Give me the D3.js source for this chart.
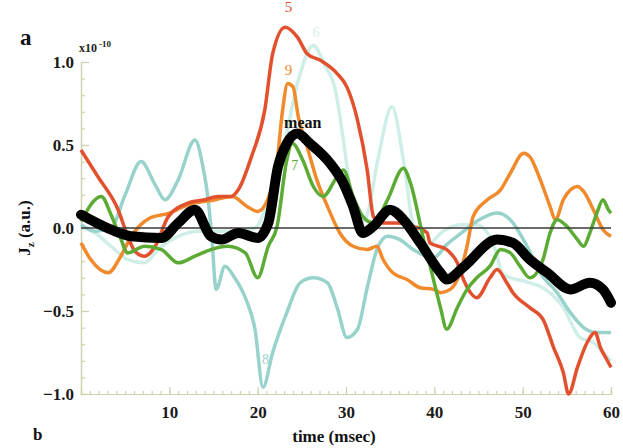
<!DOCTYPE html>
<html>
<head>
<meta charset="utf-8">
<script src="https://cdn.jsdelivr.net/npm/d3@7"></script>
<style>
  body { margin: 0; background: #fff; }
  svg text { font-family: "Liberation Serif", "DejaVu Serif", serif; font-weight: bold; }
</style>
</head>
<body>
<div id="root"></div>
<script>
// time (msec), Jz (x1e-10 a.u.)
const trace5 = [[0,0.47],[1.9,0.31],[4.2,0.11],[5.3,-0.05],[6.1,-0.14],[7.2,-0.17],[8.4,-0.11],[9.9,0.07],[12.1,0.15],[14,0.17],[15.5,0.19],[17,0.19],[17.8,0.23],[19.3,0.43],[20.8,0.71],[21.7,1.05],[23.1,1.21],[24.5,1.15],[25.6,1.05],[27.1,1.01],[29,0.93],[30.1,0.85],[31.3,0.65],[32.4,0.35],[33.1,0.07],[33.9,0.03],[35.8,0.03],[37.6,0.01],[39.2,-0.03],[39.5,-0.09],[41.4,-0.13],[42.6,-0.21],[43.3,-0.31],[44.1,-0.39],[44.8,-0.42],[46.3,-0.3],[47.1,-0.25],[48.2,-0.33],[48.9,-0.39],[50.8,-0.48],[52.3,-0.55],[53.5,-0.72],[54.6,-0.87],[55.2,-1.0],[56.2,-0.84],[57.3,-0.69],[58.2,-0.63],[58.8,-0.72],[59.6,-0.8],[60,-0.84]];
const trace9 = [[0,-0.09],[1.1,-0.19],[3.1,-0.27],[4.5,-0.17],[5.7,-0.05],[7.8,0.06],[10,0.09],[12.1,0.14],[15.2,0.17],[17.1,0.19],[18.8,0.13],[20,0.1],[21.2,0.18],[22.2,0.4],[22.8,0.7],[23.4,0.87],[24,0.85],[24.6,0.67],[25.6,0.49],[26.7,0.29],[27.9,0.13],[29.3,-0.03],[30.8,-0.11],[32.4,-0.13],[33.5,-0.11],[34.2,-0.19],[35.3,-0.27],[36.9,-0.31],[38.4,-0.36],[39.9,-0.37],[40.7,-0.39],[41.8,-0.37],[42.9,-0.27],[43.7,-0.11],[44.4,0.07],[46,0.17],[47.5,0.23],[48.6,0.33],[50.1,0.45],[50.8,0.43],[52,0.29],[53.1,0.13],[53.7,0.05],[54.6,0.17],[56.2,0.25],[56.9,0.22],[58,0.11],[59.1,-0.01],[60,-0.05]];
const trace7 = [[0,0.04],[2.3,0.19],[3.4,0.08],[4.4,-0.05],[5.3,-0.15],[7.2,-0.11],[9.1,-0.13],[11,-0.21],[12.9,-0.17],[14.7,-0.13],[16.6,-0.11],[18.6,-0.15],[20,-0.3],[21.2,-0.11],[22.2,0.01],[23.3,0.41],[23.9,0.51],[25.1,0.41],[26.3,0.25],[27.4,0.19],[29,0.31],[29.7,0.35],[30.8,0.19],[31.9,0.07],[33.1,0.03],[34.7,0.17],[36.5,0.36],[37.3,0.27],[38.7,-0.05],[39.9,-0.31],[40.7,-0.48],[41.4,-0.61],[42.6,-0.48],[43.7,-0.37],[44.8,-0.3],[46.3,-0.23],[47.5,-0.13],[48.6,-0.15],[49.7,-0.23],[50.8,-0.3],[52.3,-0.19],[53.1,-0.03],[53.9,0.05],[55,0.01],[56.2,-0.07],[56.9,-0.11],[57.6,-0.03],[58.4,0.09],[59.1,0.17],[59.7,0.11],[60,0.09]];
const trace8 = [[0,0.02],[1.6,-0.02],[3.4,0],[5,0.2],[6.8,0.4],[8.4,0.26],[9.5,0.17],[11,0.29],[12.9,0.53],[13.8,0.37],[14.4,0.17],[14.8,-0.05],[15.3,-0.37],[16.3,-0.23],[17.4,-0.3],[18.6,-0.42],[19.7,-0.61],[20.6,-0.96],[21.7,-0.75],[23.3,-0.51],[24.8,-0.33],[26.3,-0.3],[27.9,-0.33],[29,-0.48],[30.1,-0.66],[31.3,-0.61],[32.4,-0.36],[33.5,-0.13],[34.7,-0.05],[36.1,-0.07],[37.6,-0.13],[39.9,-0.18],[41.4,-0.1],[43.3,-0.02],[44.8,0.04],[47.1,0.09],[48.6,0.05],[50.5,-0.11],[52,-0.27],[53.9,-0.39],[55.4,-0.51],[56.9,-0.6],[58.4,-0.63],[60,-0.63]];
const trace6 = [[0,0.01],[1.6,-0.03],[3.4,-0.11],[5.3,-0.19],[7.2,-0.21],[8.7,-0.13],[11,-0.05],[13.5,-0.02],[16.9,-0.02],[19.7,0],[21.4,0.2],[23.1,0.53],[24.6,0.89],[26.3,1.1],[27.6,0.98],[28.8,0.83],[29.7,0.53],[30.5,0.23],[31.4,0.02],[32.4,0.08],[33.6,0.41],[35.2,0.73],[36.5,0.41],[37.6,0.02],[39.2,-0.1],[41,-0.02],[42.9,0.02],[44.8,0.02],[46.7,-0.1],[47.8,-0.28],[50.8,-0.33],[52.3,-0.36],[54.6,-0.48],[56.5,-0.66],[58,-0.69],[59.1,-0.75],[60,-0.8]];
const meanTrace = [[0,0.08],[3.4,-0.01],[5.7,-0.05],[9.1,-0.06],[11,0.03],[12.9,0.11],[14.7,-0.05],[15.9,-0.07],[17.8,-0.03],[20,-0.06],[21.2,0.03],[22.3,0.37],[23.3,0.51],[24.5,0.57],[25.9,0.51],[28.2,0.39],[29.7,0.27],[30.8,0.13],[31.9,-0.03],[33.1,0.01],[35,0.11],[36.5,0.05],[38.4,-0.09],[40.7,-0.27],[41.4,-0.31],[43.3,-0.235],[47.1,-0.07],[48.9,-0.09],[50.8,-0.19],[52.8,-0.27],[55.4,-0.37],[57.6,-0.33],[59.1,-0.37],[60,-0.45]];

const yTicks = [-1.0, -0.5, 0.0, 0.5, 1.0];
const xTicks = [10, 20, 30, 40, 50, 60];

const W = 623, H = 448;
const svg = d3.select('#root').append('svg')
  .attr('width', W).attr('height', H);

const x = d3.scaleLinear().domain([0, 60]).range([81, 611]);
const y = d3.scaleLinear().domain([-1, 1]).range([394, 62]);

const axisColor = '#cdd2ad';

// minor ticks
const yMinor = svg.append('g')
  .attr('transform', `translate(${x(0)},0)`)
  .call(d3.axisLeft(y).tickValues(d3.range(-10, 11).map(d => d / 10)).tickSize(-4).tickFormat(''));
const yMajor = svg.append('g')
  .attr('transform', `translate(${x(0)},0)`)
  .call(d3.axisLeft(y).tickValues(yTicks).tickSize(-8).tickPadding(7).tickFormat(d3.format('.1f')));
const xMinor = svg.append('g')
  .attr('transform', `translate(0,${y(-1)})`)
  .call(d3.axisBottom(x).tickValues(d3.range(0, 61)).tickSize(-3).tickFormat(''));
const xMajor = svg.append('g')
  .attr('transform', `translate(0,${y(-1)})`)
  .call(d3.axisBottom(x).tickValues(xTicks).tickSize(-7).tickPadding(12).tickFormat(d3.format('d')));

[yMinor, yMajor, xMinor, xMajor].forEach(g => {
  g.selectAll('path, line').attr('stroke', axisColor).attr('stroke-width', 1.2);
  g.selectAll('text').attr('fill', '#1a1a1a').attr('font-size', 17)
    .style('font-family', '"Liberation Serif", serif').style('font-weight', 'bold');
});
yMajor.selectAll('text').attr('dy', '0.35em');

const line = d3.line()
  .x(d => x(d[0]))
  .y(d => y(d[1]))
  .curve(d3.curveMonotoneX);

const traces = [
  { data: trace6, color: '#cfeee8', w: 3.5 },
  { data: trace8, color: '#98d3cb', w: 3.5 },
  { data: trace9, color: '#f08a2c', w: 3.5 },
  { data: trace5, color: '#e2512e', w: 3.5 },
  { data: trace7, color: '#5cab35', w: 3.5 }
];

traces.forEach(t => {
  svg.append('path')
    .datum(t.data)
    .attr('d', line)
    .attr('fill', 'none')
    .attr('stroke', t.color)
    .attr('stroke-width', t.w)
    .attr('stroke-linejoin', 'round');
});

// zero line
svg.append('line')
  .attr('x1', x(0)).attr('x2', x(60))
  .attr('y1', y(0)).attr('y2', y(0))
  .attr('stroke', '#3a3a3a').attr('stroke-width', 1.5);

svg.append('path')
  .datum(meanTrace)
  .attr('d', line)
  .attr('fill', 'none')
  .attr('stroke', '#000')
  .attr('stroke-width', 10)
  .attr('stroke-linejoin', 'round')
  .attr('stroke-linecap', 'round');

// trace labels
const labels = [
  { t: '5', x: 23.5, y: 1.3, c: '#e2512e', s: 15 },
  { t: '6', x: 26.6, y: 1.15, c: '#d6efea', s: 14 },
  { t: '9', x: 23.5, y: 0.92, c: '#f08a2c', s: 15 },
  { t: 'mean', x: 25.1, y: 0.6, c: '#111', s: 16 },
  { t: '7', x: 24.2, y: 0.35, c: '#5cab35', s: 14 },
  { t: '8', x: 20.9, y: -0.82, c: '#98d3cb', s: 14 }
];
svg.selectAll('.lbl')
  .data(labels)
  .enter().append('text')
  .attr('class', 'lbl')
  .attr('x', d => x(d.x))
  .attr('y', d => y(d.y))
  .attr('text-anchor', 'middle')
  .attr('fill', d => d.c)
  .attr('font-size', d => d.s)
  .style('font-weight', d => d.t === 'mean' ? 'bold' : 'normal')
  .text(d => d.t);

// exponent
const ex = svg.append('text').attr('x', 79).attr('y', 52).attr('font-size', 12).attr('fill', '#222');
ex.append('tspan').text('x10');
ex.append('tspan').attr('dy', -5).attr('dx', 2).attr('font-size', 9).text('-10');

// axis titles
svg.append('text')
  .attr('x', 334).attr('y', 442)
  .attr('text-anchor', 'middle')
  .attr('font-size', 17)
  .attr('fill', '#111')
  .text('time (msec)');

const yt = svg.append('text')
  .attr('transform', `translate(30,${y(0)}) rotate(-90)`)
  .attr('text-anchor', 'middle')
  .attr('font-size', 17)
  .attr('fill', '#111');
yt.append('tspan').text('J');
yt.append('tspan').attr('font-size', 11).attr('dy', 4).text('z');
yt.append('tspan').attr('dy', -4).text(' (a.u.)');

svg.append('text').attr('x', 20).attr('y', 45).attr('font-size', 23).attr('fill', '#111').text('a');
svg.append('text').attr('x', 33).attr('y', 440).attr('font-size', 17).attr('fill', '#111').text('b');
</script>
</body>
</html>
